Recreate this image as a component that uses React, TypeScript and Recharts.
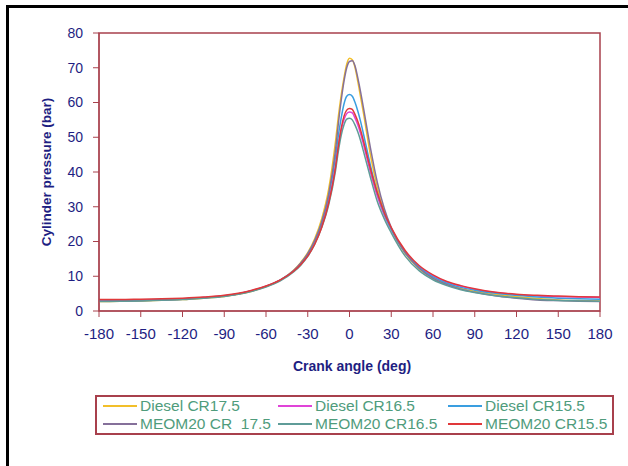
import React from 'react';
import { LineChart, Line, XAxis, YAxis, ReferenceArea } from 'recharts';

// crank angle (deg)
const ANGLES = [
  -180, -165, -150, -135, -120, -105, -90, -80, -70, -60, -50, -40, -35, -30, -25, -20, -15, -10,
  -8, -6, -4, -2, 0, 2, 4, 6, 8, 10, 15, 20, 25, 30, 40, 50, 60, 70, 80, 90, 105, 120, 135, 150, 165, 180,
];

// cylinder pressure (bar)
const DIESEL_CR175 = [
  2.7, 2.8, 2.9, 3.1, 3.3, 3.7, 4.2, 4.8, 5.7, 7.0, 8.8, 11.8, 14.0, 16.8, 20.8, 26.5, 35, 49,
  56, 62, 67, 71, 72.7, 72.3, 70, 66, 61.5, 57, 45, 35.5, 28.5, 23.5, 16.5, 12.2, 9.5, 7.7, 6.5, 5.7, 4.8, 4.1, 3.6, 3.2, 3.0, 2.9,
];
const DIESEL_CR165 = [
  2.9, 3.0, 3.1, 3.3, 3.5, 3.9, 4.4, 5.0, 5.9, 7.1, 8.8, 11.5, 13.4, 16.0, 19.6, 24.5, 31.5, 42,
  47.5, 52, 55, 56.8, 57.3, 57, 55.5, 53.5, 51, 48, 40, 33, 27.5, 23.5, 17, 12.8, 10.1, 8.3, 7.1, 6.2, 5.3, 4.7, 4.3, 4.1, 4.0, 3.9,
];
const DIESEL_CR155 = [
  2.8, 2.9, 3.0, 3.2, 3.4, 3.8, 4.3, 4.9, 5.8, 7.1, 8.8, 11.6, 13.7, 16.4, 20.2, 25.5, 33, 44.5,
  50.5, 55.5, 59.5, 61.8, 62.3, 61.8, 60, 57.5, 54.5, 51, 42, 34, 28, 23.5, 16.8, 12.6, 9.8, 8.0, 6.8, 6.0, 5.1, 4.5, 4.0, 3.7, 3.5, 3.4,
];
const MEOM20_CR175 = [
  2.8, 2.9, 3.0, 3.2, 3.4, 3.8, 4.3, 4.9, 5.8, 7.1, 8.9, 11.7, 13.8, 16.5, 20.3, 25.5, 33.5, 46.5,
  54, 60.5, 66, 70, 71.8, 72.0, 70.5, 67, 63, 58.5, 47, 37, 29.5, 24, 16.8, 12.3, 9.4, 7.6, 6.3, 5.4, 4.4, 3.7, 3.2, 3.0, 2.8, 2.7,
];
const MEOM20_CR165 = [
  2.7, 2.8, 2.9, 3.1, 3.3, 3.7, 4.2, 4.8, 5.7, 6.9, 8.6, 11.3, 13.2, 15.7, 19.2, 24, 30.5, 40.5,
  46, 50.5, 53.5, 55.2, 55.5, 55, 53.5, 51.5, 49, 46, 38.5, 31.5, 26.5, 22.5, 15.8, 11.6, 9.0, 7.3, 6.1, 5.3, 4.4, 3.8, 3.3, 3.0, 2.9, 2.8,
];
const MEOM20_CR155 = [
  3.3, 3.3, 3.4, 3.5, 3.7, 4.0, 4.5, 5.1, 6.0, 7.2, 8.9, 11.5, 13.4, 15.8, 19.2, 24, 31, 41.5,
  47.5, 52.5, 56, 57.8, 58.3, 58, 56.5, 54.5, 52, 49, 41, 34, 28.3, 24, 17.4, 13.1, 10.4, 8.5, 7.3, 6.4, 5.4, 4.8, 4.5, 4.3, 4.1, 4.0,
];

const X_TICKS = [-180, -150, -120, -90, -60, -30, 0, 30, 60, 90, 120, 150, 180];
const Y_TICKS = [0, 10, 20, 30, 40, 50, 60, 70, 80];

const SERIES = [
  { key: 'd175', name: 'Diesel CR17.5', color: '#f2bf2a', values: DIESEL_CR175 },
  { key: 'd165', name: 'Diesel CR16.5', color: '#e044d8', values: DIESEL_CR165 },
  { key: 'd155', name: 'Diesel CR15.5', color: '#3a9ee0', values: DIESEL_CR155 },
  { key: 'm175', name: 'MEOM20 CR  17.5', color: '#85709a', values: MEOM20_CR175 },
  { key: 'm165', name: 'MEOM20 CR16.5', color: '#5f9c98', values: MEOM20_CR165 },
  { key: 'm155', name: 'MEOM20 CR15.5', color: '#e0383a', values: MEOM20_CR155 },
];

const data = ANGLES.map((angle, i) => {
  const row: Record<string, number> = { angle };
  SERIES.forEach(s => { row[s.key] = s.values[i]; });
  return row;
});

const AXIS = '#a8404c';
const NAVY = '#1e1e82';
const FONT = 'Arial, "Liberation Sans", sans-serif';

const LegendBox: React.FC = () => {
  const cols = [6, 181, 351];
  const rows = [0, 18];
  return (
    <div style={{ position: 'absolute', left: 95, top: 395, width: 515, height: 36, border: `2px solid ${AXIS}`, fontFamily: FONT }}>
      {SERIES.map((s, i) => (
        <div key={s.key} style={{ position: 'absolute', left: cols[i % 3], top: rows[Math.floor(i / 3)], display: 'flex', alignItems: 'center', whiteSpace: 'pre' }}>
          <span style={{ display: 'inline-block', width: 34, height: 0, borderTop: `2px solid ${s.color}`, marginRight: 3 }} />
          <span style={{ fontSize: 15.5, color: '#4f9c7c' }}>{s.name}</span>
        </div>
      ))}
    </div>
  );
};

const App: React.FC = () => (
  <div style={{ position: 'fixed', left: 0, top: 0, width: 628, height: 466, background: '#fff', overflow: 'hidden' }}>
    <div style={{ position: 'absolute', left: 6, top: 5, right: -10, bottom: -10, borderTop: '3px solid #000', borderLeft: '3px solid #000' }} />
    <LineChart width={628} height={466} data={data} margin={{ top: 33, right: 28, left: 0, bottom: 115 }}>
      <XAxis
        dataKey="angle"
        type="number"
        domain={[-180, 180]}
        ticks={X_TICKS}
        interval={0}
        height={40}
        stroke={AXIS}
        tickSize={6}
        tickMargin={11}
        tick={{ fill: NAVY, fontSize: 15, fontFamily: FONT }}
        label={{ content: () => (
          <text x={352} y={371} textAnchor="middle" fill={NAVY} fontSize={14} fontWeight="bold" fontFamily={FONT}>Crank angle (deg)</text>
        ) }}
      />
      <YAxis
        type="number"
        domain={[0, 80]}
        ticks={Y_TICKS}
        interval={0}
        width={99}
        stroke={AXIS}
        tickSize={6}
        tickMargin={10}
        tick={{ fill: NAVY, fontSize: 14, fontFamily: FONT }}
        label={{ content: () => (
          <text x={51} y={172} transform="rotate(-90 51 172)" textAnchor="middle" fill={NAVY} fontSize={13.5} fontWeight="bold" fontFamily={FONT}>Cylinder pressure (bar)</text>
        ) }}
      />
      <ReferenceArea x1={-180} x2={180} y1={0} y2={80} fill="none" stroke={AXIS} strokeWidth={1.5} />
      {SERIES.map(s => (
        <Line key={s.key} dataKey={s.key} name={s.name} type="monotone" stroke={s.color} strokeWidth={1.5} dot={false} isAnimationActive={false} />
      ))}
    </LineChart>
    <LegendBox />
  </div>
);

export default App;
